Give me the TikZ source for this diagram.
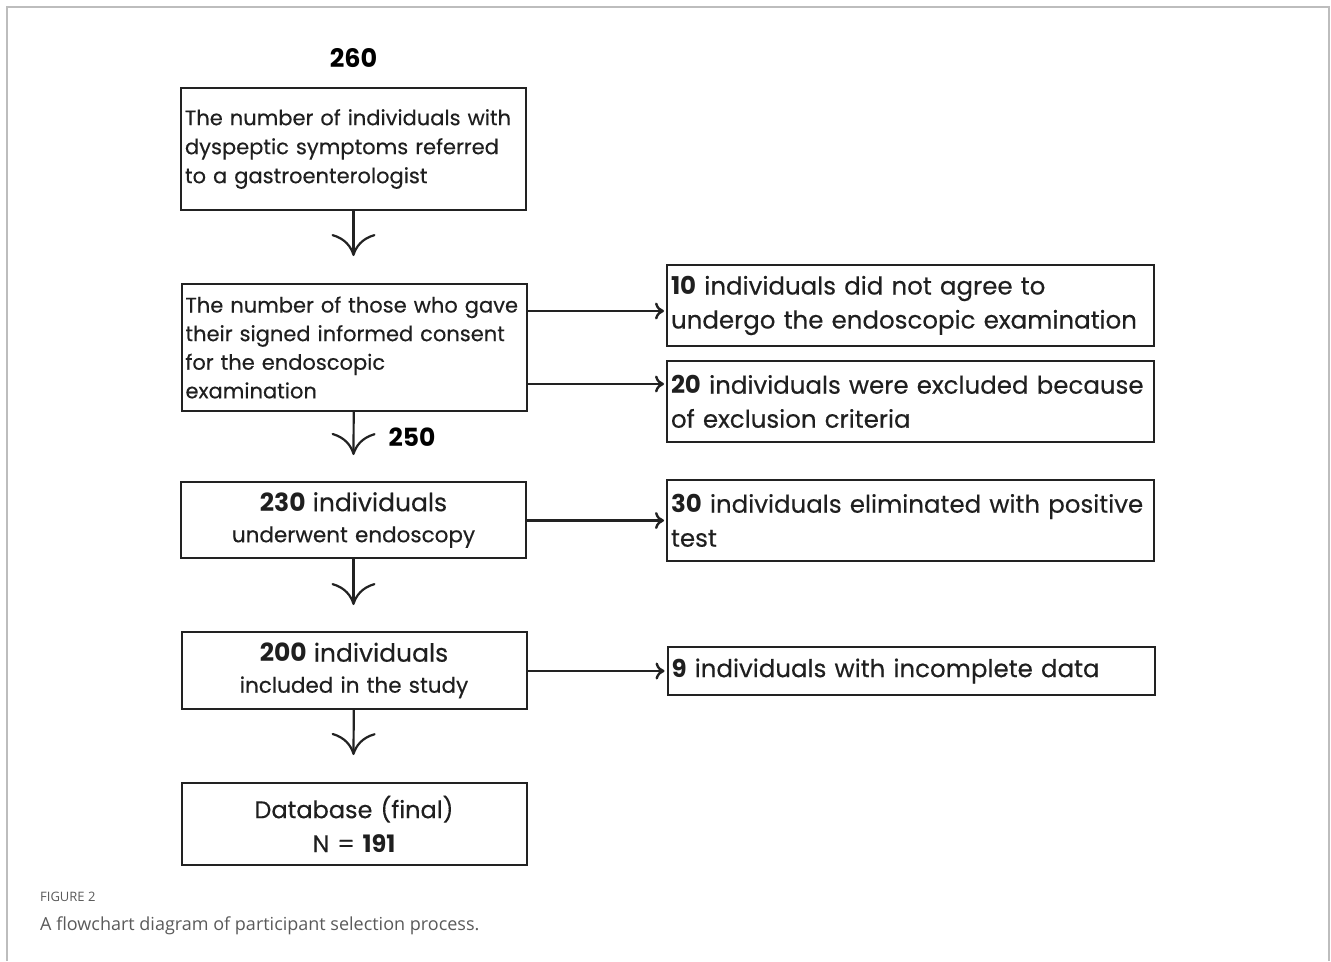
\documentclass[tikz,border=0pt]{standalone}
\usepackage{fontspec}
\setmainfont{Poppins}[UprightFeatures={FakeBold=0.35}]
\newfontfamily\capfont{Open Sans}
\usetikzlibrary{arrows.meta,calc}

\definecolor{boxline}{HTML}{222222}
\definecolor{capgray}{HTML}{5A5A5A}
\definecolor{framegray}{HTML}{BDBDBD}

\begin{document}
\begin{tikzpicture}[x=1pt,y=-1pt,
    b/.style={draw=boxline,line width=2pt,rectangle,inner sep=4pt,text=black!88},
    bl/.style={b,align=left,text width=337pt,minimum height=#1},
    bc/.style={b,align=center,text width=337pt,minimum height=#1},
    br/.style={b,align=left,text width=479pt,minimum height=#1,
        font=\fontsize{24.5}{34}\selectfont},
    va/.style={line width=2.2pt,draw=boxline,-{To[length=22pt,width=44pt,line width=2.2pt]}},
    ha/.style={line width=2.2pt,draw=boxline,shorten >=2pt,-{To[length=9pt,width=17pt,line width=2.4pt]}}]

    % frame, open at the bottom
    \draw[framegray,line width=1.5pt] (7,961) -- (7,7) -- (1329,7) -- (1329,961);

    \node[font=\fontsize{25.5}{30}\selectfont\bfseries] (top) at (353.5,58) {260};

    \node[bl=122pt,font=\fontsize{21}{29}\selectfont] (n1) at (353.5,149)
        {The number of individuals with\\dyspeptic symptoms referred\\to a gastroenterologist};
    \node[bl=127pt,font=\fontsize{21}{28.6}\selectfont] (n2) at (354,347.5)
        {The number of those who gave\\their signed informed consent\\for the endoscopic\\examination};
    \node[bc=76pt,font=\fontsize{21.5}{31}\selectfont] (n3) at (353.5,520)
        {{\fontsize{25}{31}\selectfont\textbf{230} individuals}\\underwent endoscopy};
    \node[bc=77pt,font=\fontsize{21.5}{31}\selectfont] (n4) at (354,670.5)
        {{\fontsize{25}{31}\selectfont\textbf{200} individuals}\\included in the study};
    \node[bc=82pt,font=\fontsize{24}{34}\selectfont] (n5) at (354,824)
        {Database (final)\\N = \textbf{191}};

    \node[br=81pt] (ra) at (910.5,305.5)
        {\textbf{10} individuals did not agree to\\undergo the endoscopic examination};
    \node[br=81pt] (rb) at (910.5,401.5)
        {\textbf{20} individuals were excluded because\\of exclusion criteria};
    \node[br=81pt] (rc) at (910.5,520.5)
        {\textbf{30} individuals eliminated with positive\\test};
    \node[br=48pt] (rd) at (911,671)
        {\textbf{9} individuals with incomplete data};

    % free ends of the downward arrows
    \coordinate (t1) at (353.5,256);
    \coordinate (t2) at (353.5,455);
    \coordinate (t3) at (353.5,605);
    \coordinate (t4) at (353.5,755);

    \draw[va] (n1) to (t1);
    \draw[va] (n2) to (t2);
    \draw[va] (n3) to (t3);
    \draw[va] (n4) to (t4);

    \node[font=\fontsize{25}{30}\selectfont\bfseries,anchor=west] (lab) at (385,437) {250};

    \draw[ha] ($(n2.east |- ra.west)+(0,5.5)$) to ($(ra.west)+(0,5.5)$);
    \draw[ha] ($(n2.east |- rb.west)+(0,-17.5)$) to ($(rb.west)+(0,-17.5)$);
    \draw[ha] (n3.east |- rc.west) to (rc.west);
    \draw[ha] (n4.east |- rd.west) to (rd.west);

    % caption
    \node[anchor=west,text=capgray,font=\capfont\fontsize{13}{16}\selectfont,inner sep=0pt] (fig) at (40,897) {FIGURE 2};
    \node[anchor=west,text=capgray,font=\capfont\fontsize{18}{21}\selectfont,inner sep=0pt] (cap) at (40,926)
        {A flowchart diagram of participant selection process.};

    \useasboundingbox (0,0) rectangle (1331,961);
\end{tikzpicture}
\end{document}
